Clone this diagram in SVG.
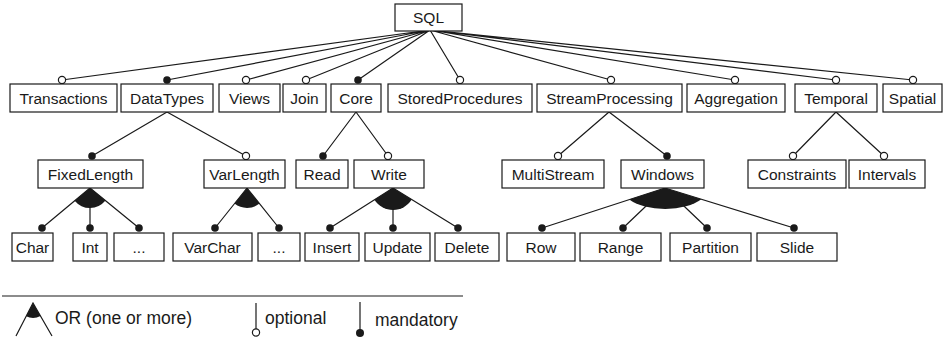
<svg xmlns="http://www.w3.org/2000/svg" width="944" height="339" viewBox="0 0 944 339">
<style>
.box{fill:#fff;stroke:#1a1a1a;stroke-width:1.2}
.t{font-family:"Liberation Sans",Arial,sans-serif;font-size:15.5px;fill:#1a1a1a;text-anchor:middle}
.lt{font-family:"Liberation Sans",Arial,sans-serif;font-size:17.5px;fill:#1a1a1a}
.ln{stroke:#1a1a1a;stroke-width:1.2;fill:none}
.opt{fill:#fff;stroke:#1a1a1a;stroke-width:1.2}
.man{fill:#1a1a1a;stroke:none}
.or{fill:#1a1a1a;stroke:none}
</style>
<rect width="944" height="339" fill="#fff"/>
<g id="connectors">
<!-- SQL children -->
<path class="ln" d="M430,30L62,80M430,30L167,80M430,30L246,80M430,30L306,80M430,30L358,80M430,30L460,80M430,30L611,80M430,30L735,80M430,30L836,80M430,30L913,80"/>
<!-- DataTypes -->
<path class="ln" d="M167,112L92,156M167,112L246,156"/>
<!-- Core -->
<path class="ln" d="M356,112L323,156M356,112L388,156"/>
<!-- StreamProcessing -->
<path class="ln" d="M609,112L558,156M609,112L667,156"/>
<!-- Temporal -->
<path class="ln" d="M836,112L793,156M836,112L884,156"/>
<!-- FixedLength -->
<path class="ln" d="M90,188L42,228M90,188L90,228M90,188L139,228"/>
<path class="or" d="M90,188L74.6,200.8A20,20 0 0 0 105.5,200.6Z"/>
<!-- VarLength -->
<path class="ln" d="M247,188L215,228M247,188L279,228"/>
<path class="or" d="M247,188L234.5,203.6A20,20 0 0 0 259.5,203.6Z"/>
<!-- Write -->
<path class="ln" d="M393,188L330,228M393,188L393,228M393,188L458,228"/>
<path class="or" d="M393,188L374.4,199.8A22,22 0 0 0 411.7,199.5Z"/>
<!-- Windows -->
<path class="ln" d="M665,188L542,228M665,188L623,228M665,188L707,228M665,188L794,228"/>
<path class="or" d="M665,188L629.2,199.6A43,21 0 0 0 701.3,199.25Z"/>
<!-- end markers row 1 -->
<circle class="opt" cx="62" cy="80" r="3.6"/>
<circle class="man" cx="167" cy="80" r="3.8"/>
<circle class="opt" cx="246" cy="80" r="3.6"/>
<circle class="opt" cx="306" cy="80" r="3.6"/>
<circle class="man" cx="358" cy="80" r="3.8"/>
<circle class="opt" cx="460" cy="80" r="3.6"/>
<circle class="opt" cx="611" cy="80" r="3.6"/>
<circle class="opt" cx="735" cy="80" r="3.6"/>
<circle class="opt" cx="836" cy="80" r="3.6"/>
<circle class="opt" cx="913" cy="80" r="3.6"/>
<!-- row 2 -->
<circle class="man" cx="92" cy="156" r="3.8"/>
<circle class="opt" cx="246" cy="156" r="3.6"/>
<circle class="man" cx="323" cy="156" r="3.8"/>
<circle class="opt" cx="388" cy="156" r="3.6"/>
<circle class="opt" cx="558" cy="156" r="3.6"/>
<circle class="man" cx="667" cy="156" r="3.8"/>
<circle class="opt" cx="793" cy="156" r="3.6"/>
<circle class="opt" cx="884" cy="156" r="3.6"/>
<!-- row 3 -->
<circle class="man" cx="42" cy="228" r="3.8"/>
<circle class="man" cx="90" cy="228" r="3.8"/>
<circle class="man" cx="139" cy="228" r="3.8"/>
<circle class="man" cx="215" cy="228" r="3.8"/>
<circle class="man" cx="279" cy="228" r="3.8"/>
<circle class="man" cx="330" cy="228" r="3.8"/>
<circle class="man" cx="393" cy="228" r="3.8"/>
<circle class="man" cx="458" cy="228" r="3.8"/>
<circle class="man" cx="542" cy="228" r="3.8"/>
<circle class="man" cx="623" cy="228" r="3.8"/>
<circle class="man" cx="707" cy="228" r="3.8"/>
<circle class="man" cx="794" cy="228" r="3.8"/>
</g>
<g id="n-sql"><rect class="box" x="395" y="4" width="67" height="27"/><text class="t" x="428.5" y="23">SQL</text></g>
<g id="n-transactions"><rect class="box" x="10" y="84" width="107" height="28"/><text class="t" x="63.5" y="103.5">Transactions</text></g>
<g id="n-datatypes"><rect class="box" x="121" y="84" width="92" height="28"/><text class="t" x="167" y="103.5">DataTypes</text></g>
<g id="n-views"><rect class="box" x="219" y="84" width="61" height="28"/><text class="t" x="249.5" y="103.5">Views</text></g>
<g id="n-join"><rect class="box" x="283" y="84" width="43" height="28"/><text class="t" x="304.5" y="103.5">Join</text></g>
<g id="n-core"><rect class="box" x="331" y="84" width="50" height="28"/><text class="t" x="356" y="103.5">Core</text></g>
<g id="n-storedprocedures"><rect class="box" x="388" y="84" width="144" height="28"/><text class="t" x="460" y="103.5">StoredProcedures</text></g>
<g id="n-streamprocessing"><rect class="box" x="537" y="84" width="145" height="28"/><text class="t" x="609.5" y="103.5">StreamProcessing</text></g>
<g id="n-aggregation"><rect class="box" x="687" y="84" width="98" height="28"/><text class="t" x="736" y="103.5">Aggregation</text></g>
<g id="n-temporal"><rect class="box" x="795" y="84" width="82" height="28"/><text class="t" x="836" y="103.5">Temporal</text></g>
<g id="n-spatial"><rect class="box" x="883" y="84" width="59" height="28"/><text class="t" x="912.5" y="103.5">Spatial</text></g>
<g id="n-fixedlength"><rect class="box" x="38" y="160" width="105" height="28"/><text class="t" x="90.5" y="179.5">FixedLength</text></g>
<g id="n-varlength"><rect class="box" x="204" y="160" width="81" height="28"/><text class="t" x="244.5" y="179.5">VarLength</text></g>
<g id="n-read"><rect class="box" x="296" y="160" width="52" height="28"/><text class="t" x="322" y="179.5">Read</text></g>
<g id="n-write"><rect class="box" x="354" y="160" width="70" height="28"/><text class="t" x="389" y="179.5">Write</text></g>
<g id="n-multistream"><rect class="box" x="502" y="160" width="102" height="28"/><text class="t" x="553" y="179.5">MultiStream</text></g>
<g id="n-windows"><rect class="box" x="621" y="160" width="83" height="28"/><text class="t" x="662.5" y="179.5">Windows</text></g>
<g id="n-constraints"><rect class="box" x="748" y="160" width="98" height="28"/><text class="t" x="797" y="179.5">Constraints</text></g>
<g id="n-intervals"><rect class="box" x="849" y="160" width="76" height="28"/><text class="t" x="887" y="179.5">Intervals</text></g>
<g id="n-char"><rect class="box" x="12" y="233" width="41" height="28"/><text class="t" x="32.5" y="252.5">Char</text></g>
<g id="n-int"><rect class="box" x="73" y="233" width="34" height="28"/><text class="t" x="90" y="252.5">Int</text></g>
<g id="n-fixed-more"><rect class="box" x="114" y="233" width="50" height="28"/><text class="t" x="139" y="252.5">...</text></g>
<g id="n-varchar"><rect class="box" x="173" y="233" width="79" height="28"/><text class="t" x="212.5" y="252.5">VarChar</text></g>
<g id="n-var-more"><rect class="box" x="258" y="233" width="42" height="28"/><text class="t" x="279" y="252.5">...</text></g>
<g id="n-insert"><rect class="box" x="305" y="233" width="54" height="28"/><text class="t" x="332" y="252.5">Insert</text></g>
<g id="n-update"><rect class="box" x="365" y="233" width="65" height="28"/><text class="t" x="397.5" y="252.5">Update</text></g>
<g id="n-delete"><rect class="box" x="435" y="233" width="64" height="28"/><text class="t" x="467" y="252.5">Delete</text></g>
<g id="n-row"><rect class="box" x="507" y="233" width="68" height="28"/><text class="t" x="541" y="252.5">Row</text></g>
<g id="n-range"><rect class="box" x="580" y="233" width="81" height="28"/><text class="t" x="620.5" y="252.5">Range</text></g>
<g id="n-partition"><rect class="box" x="670" y="233" width="81" height="28"/><text class="t" x="710.5" y="252.5">Partition</text></g>
<g id="n-slide"><rect class="box" x="757" y="233" width="80" height="28"/><text class="t" x="797" y="252.5">Slide</text></g>
<g id="legend">
<line class="ln" x1="2" y1="296" x2="463" y2="296"/>
<path class="ln" d="M16,336L33,303L52,336"/>
<path class="or" d="M33,303L26.1,316.3A15,15 0 0 0 40.5,316Z"/>
<text class="lt" x="55" y="324">OR (one or more)</text>
<line class="ln" x1="256" y1="303" x2="256" y2="329"/>
<circle class="opt" cx="256" cy="332.5" r="3.6"/>
<text class="lt" x="265" y="324">optional</text>
<line class="ln" x1="360" y1="302" x2="360" y2="331"/>
<circle class="man" cx="360" cy="333" r="4"/>
<text class="lt" x="375" y="326">mandatory</text>
</g>
</svg>
